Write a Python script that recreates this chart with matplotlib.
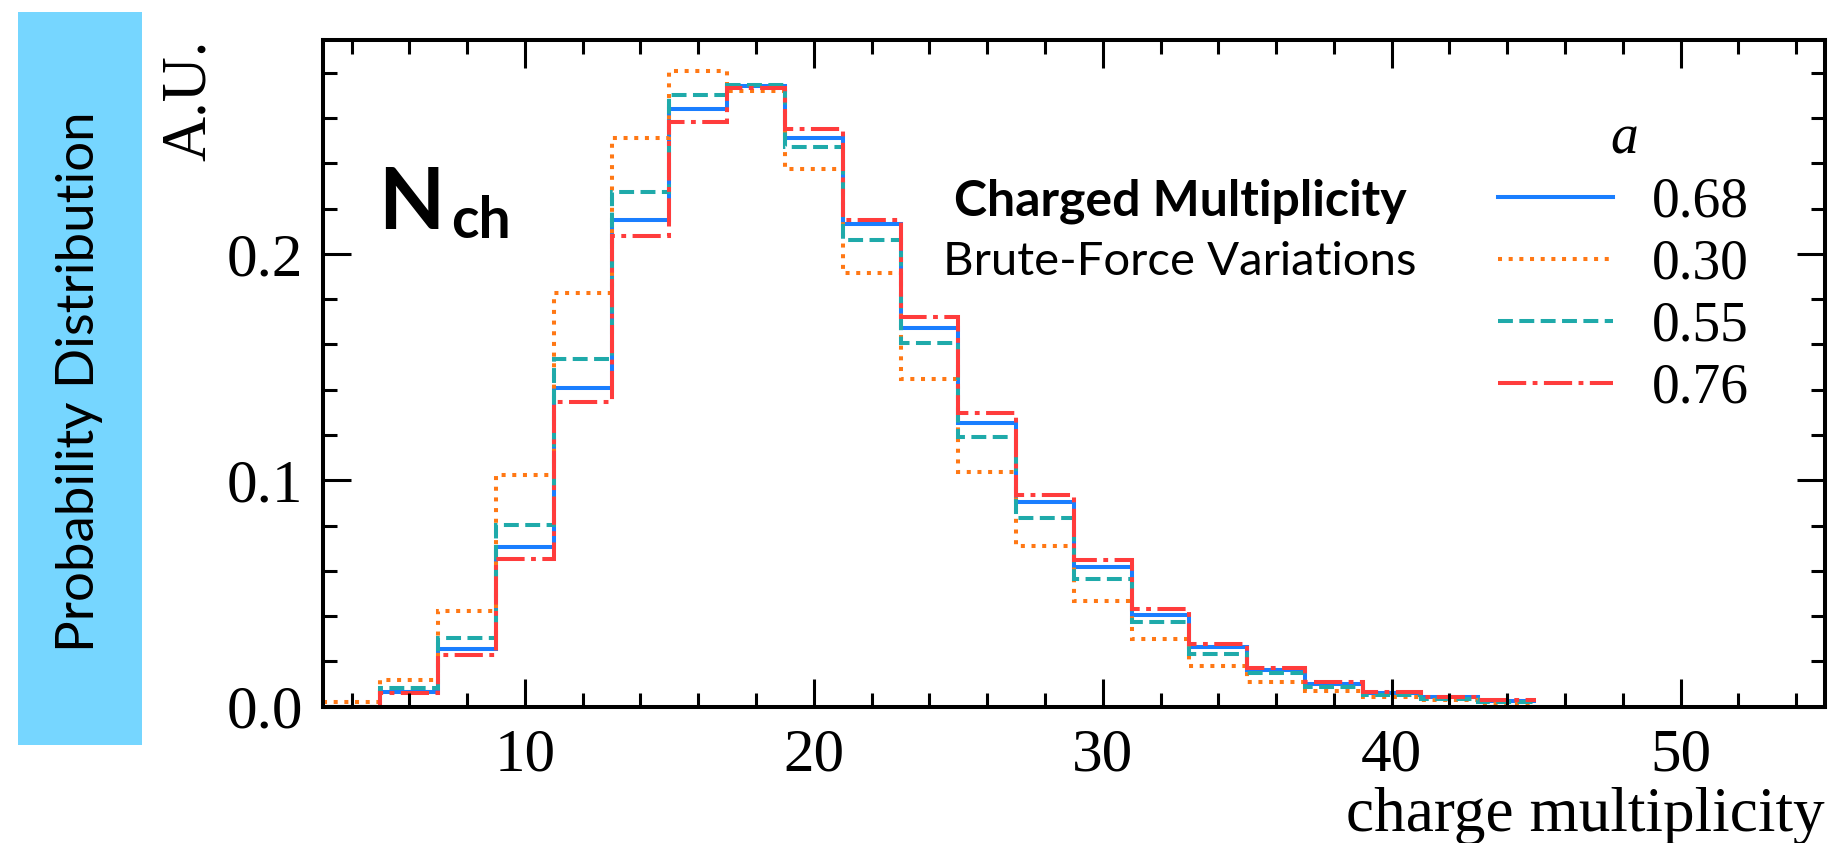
import numpy as np
import matplotlib
matplotlib.use("Agg")
import matplotlib.pyplot as plt
from matplotlib.patches import Rectangle
from matplotlib.ticker import MultipleLocator, FormatStrFormatter
from matplotlib.font_manager import FontProperties

# Histogram bin edges (charged multiplicity, width 2)
bin_edges = np.arange(3, 47, 2)

# Normalised distributions for each value of the parameter a
a_labels = ["0.68", "0.30", "0.55", "0.76"]
dist_068 = [0.0, 0.0067, 0.0254, 0.0704, 0.1406, 0.2149, 0.2639, 0.2741, 0.2514, 0.2132,
            0.1671, 0.1252, 0.0903, 0.0619, 0.0405, 0.0263, 0.0162, 0.0101, 0.0062, 0.0042, 0.0025]
dist_030 = [0.002, 0.0118, 0.0423, 0.1023, 0.1826, 0.2513, 0.2807, 0.2720, 0.2374, 0.1914,
            0.1446, 0.1038, 0.0711, 0.0467, 0.0298, 0.0181, 0.0111, 0.0071, 0.0045, 0.0030, 0.0018]
dist_055 = [0.0, 0.0082, 0.0302, 0.0803, 0.1534, 0.2272, 0.2701, 0.2745, 0.2473, 0.2061,
            0.1605, 0.1192, 0.0832, 0.0564, 0.0375, 0.0234, 0.0148, 0.0089, 0.0053, 0.0034, 0.0022]
dist_076 = [0.0, 0.0060, 0.0229, 0.0651, 0.1344, 0.2080, 0.2581, 0.2735, 0.2554, 0.2149,
            0.1722, 0.1296, 0.0935, 0.0648, 0.0432, 0.0277, 0.0173, 0.0108, 0.0067, 0.0045, 0.0028]

series = [dist_068, dist_030, dist_055, dist_076]
colors = ["#1A7EFF", "#FF7814", "#1FAAAA", "#FF3C3C"]
styles = ["-", ":", "--", (0, (7, 1.6, 1.2, 1.6))]

x_major_ticks = [10, 20, 30, 40, 50]
y_major_ticks = [0.0, 0.1, 0.2]

W, H = 1828, 843
fig = plt.figure(figsize=(W / 100, H / 100), dpi=100)

serif = "Liberation Serif"
sans = "Lato"

# Axes placement in pixels
L, R, T, B = 322.7, 1825.0, 40.0, 706.7
ax = fig.add_axes([L / W, 1 - B / H, (R - L) / W, (B - T) / H])

for vals, c, ls, lab in zip(series, colors, styles, a_labels):
    ax.stairs(vals, bin_edges, baseline=None, color=c, linestyle=ls,
              linewidth=2.9, label=lab)

ax.set_xlim(3, 55)
ax.set_ylim(0, 0.2945)
ax.set_xticks(x_major_ticks)
ax.set_yticks(y_major_ticks)
ax.xaxis.set_minor_locator(MultipleLocator(2))
ax.yaxis.set_minor_locator(MultipleLocator(0.02))
ax.yaxis.set_major_formatter(FormatStrFormatter("%.1f"))

for s in ax.spines.values():
    s.set_linewidth(2.9)
ax.tick_params(which="both", direction="in", top=True, right=True, width=2.2)
ax.tick_params(which="major", length=20)
ax.tick_params(which="minor", length=10)
ax.tick_params(axis="x", which="major", pad=15)
ax.tick_params(axis="y", which="major", pad=14.4)
for lbl in ax.get_xticklabels() + ax.get_yticklabels():
    lbl.set_fontfamily(serif)
    lbl.set_fontsize(44)

ax.set_xlabel("charge multiplicity", loc="right", fontsize=45.5,
              fontfamily=serif, labelpad=3)
ax.set_ylabel("A.U.", loc="top", fontsize=45, fontfamily=serif, labelpad=5)

# Legend with the parameter values
leg = ax.legend(loc="upper right", bbox_to_anchor=(1777 / W, 1 - 86 / H),
                bbox_transform=fig.transFigure, frameon=False, borderpad=0,
                handlelength=2.07, handletextpad=0.7, labelspacing=0.185,
                prop=FontProperties(family=serif, size=40),
                title="a",
                title_fontproperties=FontProperties(family=serif, style="italic", size=40))

# Observable name
fig.text(378 / W, 1 - 229 / H, "N", fontfamily=sans, fontweight="bold",
         fontsize=62, ha="left", va="baseline")
fig.text(451 / W, 1 - 238 / H, "ch", fontfamily=sans, fontweight="bold",
         fontsize=41, ha="left", va="baseline")

fig.text(1180 / W, 1 - 215 / H, "Charged Multiplicity", fontfamily=sans,
         fontweight="bold", fontsize=36, ha="center", va="baseline")
fig.text(1180 / W, 1 - 275 / H, "Brute-Force Variations", fontfamily=sans,
         fontsize=34, ha="center", va="baseline")

# Side panel
fig.patches.append(Rectangle((18 / W, 1 - 745 / H), 124 / W, 733 / H,
                             transform=fig.transFigure, facecolor="#76D6FF",
                             edgecolor="none", zorder=0))
fig.text(80 / W, 1 - 382 / H, "Probability Distribution", rotation=90,
         fontfamily=sans, fontsize=38, ha="center", va="center")

fig.savefig("out.png", dpi=100)
